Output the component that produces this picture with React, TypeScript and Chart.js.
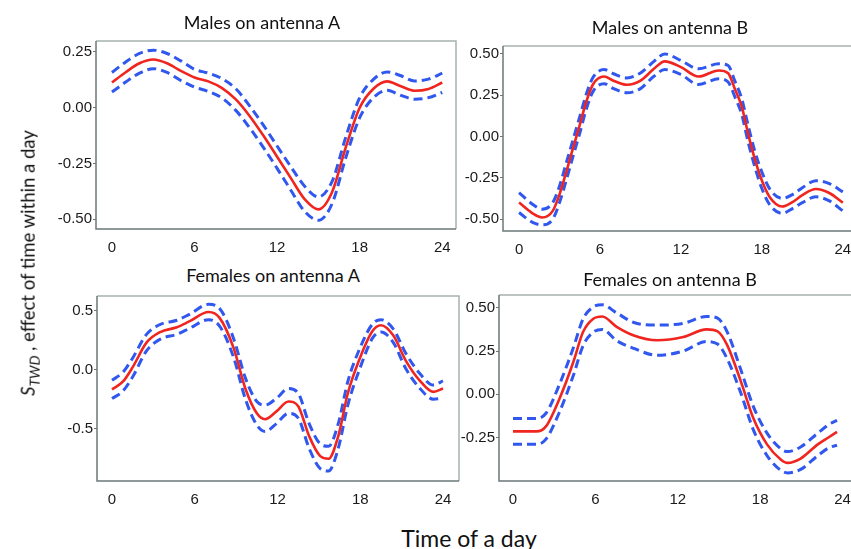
import React, { useEffect, useRef } from "react";
import { Chart, registerables } from "chart.js";

Chart.register(...registerables);

// Shared hour ticks on every x axis
const hourTicks = [0, 6, 12, 18, 24];

// Males on antenna A
const maleAHours = [0, 1, 2, 3, 4, 5, 6, 7, 8, 9, 10, 11, 12, 13, 14, 15, 16, 17, 18, 19, 20, 21, 22, 23, 24];
const maleAFit = [0.113, 0.159, 0.199, 0.216, 0.199, 0.165, 0.135, 0.118, 0.088, 0.037, -0.037, -0.125, -0.22, -0.316, -0.41, -0.456, -0.378, -0.176, 0.0, 0.085, 0.118, 0.096, 0.076, 0.084, 0.113];
const maleAUpper = [0.158, 0.205, 0.243, 0.258, 0.243, 0.21, 0.172, 0.155, 0.13, 0.085, 0.008, -0.078, -0.172, -0.265, -0.352, -0.4, -0.33, -0.13, 0.045, 0.127, 0.16, 0.143, 0.12, 0.128, 0.155];
const maleALower = [0.07, 0.115, 0.155, 0.175, 0.158, 0.122, 0.092, 0.073, 0.043, -0.012, -0.09, -0.178, -0.272, -0.37, -0.465, -0.505, -0.43, -0.222, -0.045, 0.045, 0.078, 0.055, 0.038, 0.045, 0.068];
const maleATicks = [0.25, 0, -0.25, -0.5];

// Males on antenna B
const maleBHours = [0, 1, 1.7, 2.5, 3, 3.5, 4, 4.5, 5, 5.5, 6.3, 7, 8, 9, 10, 10.8, 12, 13.3, 14.8, 15.5, 16, 16.5, 17, 17.5, 18, 18.6, 19.5, 20.3, 21, 22, 23, 24];
const maleBFit = [-0.4, -0.465, -0.49, -0.45, -0.35, -0.215, -0.07, 0.07, 0.215, 0.318, 0.363, 0.338, 0.313, 0.338, 0.41, 0.455, 0.42, 0.363, 0.4, 0.383, 0.287, 0.184, 0.01, -0.143, -0.266, -0.369, -0.424, -0.395, -0.355, -0.318, -0.342, -0.4];
const maleBUpper = [-0.34, -0.41, -0.44, -0.4, -0.3, -0.16, -0.02, 0.12, 0.26, 0.36, 0.405, 0.38, 0.355, 0.385, 0.455, 0.5, 0.46, 0.41, 0.44, 0.43, 0.335, 0.23, 0.06, -0.095, -0.215, -0.32, -0.375, -0.35, -0.31, -0.268, -0.285, -0.335];
const maleBLower = [-0.46, -0.52, -0.535, -0.5, -0.4, -0.265, -0.12, 0.02, 0.17, 0.275, 0.32, 0.29, 0.265, 0.29, 0.365, 0.405, 0.375, 0.315, 0.35, 0.33, 0.24, 0.135, -0.04, -0.19, -0.315, -0.415, -0.465, -0.435, -0.4, -0.365, -0.39, -0.45];
const maleBTicks = [0.5, 0.25, 0, -0.25, -0.5];

// Females on antenna A
const femaleAHours = [0, 0.8, 1.5, 2.5, 3.5, 4.7, 5.6, 7.0, 7.8, 8.8, 9.7, 10.5, 11.1, 11.9, 12.8, 13.5, 14.3, 15.1, 15.7, 16.4, 17.1, 18.0, 18.9, 19.5, 20.4, 21.3, 22.3, 23.3, 24];
const femaleAFit = [-0.168, -0.1, 0.022, 0.23, 0.32, 0.36, 0.41, 0.49, 0.44, 0.19, -0.17, -0.37, -0.42, -0.356, -0.27, -0.31, -0.566, -0.734, -0.756, -0.566, -0.2, 0.106, 0.33, 0.378, 0.29, 0.078, -0.09, -0.188, -0.16];
const femaleAUpper = [-0.09, -0.02, 0.1, 0.3, 0.385, 0.42, 0.47, 0.555, 0.52, 0.27, -0.08, -0.27, -0.3, -0.245, -0.16, -0.2, -0.46, -0.63, -0.65, -0.46, -0.1, 0.19, 0.39, 0.425, 0.345, 0.14, -0.03, -0.13, -0.095];
const femaleALower = [-0.245, -0.18, -0.06, 0.16, 0.26, 0.3, 0.35, 0.425, 0.37, 0.11, -0.26, -0.47, -0.525, -0.46, -0.37, -0.41, -0.67, -0.84, -0.86, -0.67, -0.3, 0.02, 0.27, 0.32, 0.23, 0.01, -0.155, -0.25, -0.24];
const femaleATicks = [0.5, 0, -0.5];

// Females on antenna B
const femaleBHours = [0, 1.7, 2.4, 3.4, 4.4, 5.1, 5.85, 6.5, 7.55, 8.8, 10.5, 12.4, 14.1, 14.9, 15.6, 16.6, 17.5, 18.5, 19.5, 20.0, 20.95, 22.2, 23.0, 23.6];
const femaleBFit = [-0.215, -0.215, -0.186, -0.023, 0.188, 0.36, 0.437, 0.45, 0.39, 0.34, 0.312, 0.331, 0.375, 0.364, 0.284, 0.073, -0.138, -0.29, -0.377, -0.397, -0.372, -0.29, -0.249, -0.218];
const femaleBUpper = [-0.14, -0.14, -0.11, 0.06, 0.27, 0.435, 0.505, 0.517, 0.47, 0.415, 0.4, 0.41, 0.45, 0.44, 0.36, 0.14, -0.07, -0.225, -0.315, -0.332, -0.305, -0.225, -0.175, -0.151];
const femaleBLower = [-0.29, -0.29, -0.26, -0.1, 0.11, 0.28, 0.36, 0.375, 0.31, 0.265, 0.225, 0.25, 0.305, 0.29, 0.205, 0.005, -0.205, -0.355, -0.44, -0.455, -0.435, -0.355, -0.31, -0.295];
const femaleBTicks = [0.5, 0.25, 0, -0.25];

const RED = "#f0251f";
const BLUE = "#3057ee";
const TICK_FONT = { family: "'Liberation Sans', Arial, sans-serif", size: 15 };
const TEXT_FONT = "Lato, 'Open Sans', sans-serif";

const Y_AXIS_W = 60;
const X_AXIS_H = 26;
const PAD = 8;

type Panel = {
  title: string;
  titleX: number;
  titleY: number;
  box: { l: number; t: number; r: number; b: number };
  xMin: number;
  xMax: number;
  yMin: number;
  yMax: number;
  decimals: number;
  yTicks: number[];
  hours: number[];
  fit: number[];
  upper: number[];
  lower: number[];
};

const panels: Panel[] = [
  {
    title: "Males on antenna A", titleX: 262, titleY: 22,
    box: { l: 96, t: 39, r: 456, b: 229 },
    xMin: -1.16, xMax: 25.0, yMin: -0.544, yMax: 0.299, decimals: 2,
    yTicks: maleATicks, hours: maleAHours, fit: maleAFit, upper: maleAUpper, lower: maleALower,
  },
  {
    title: "Males on antenna B", titleX: 670, titleY: 27,
    box: { l: 503, t: 44, r: 859, b: 231 },
    xMin: -1.19, xMax: 25.2, yMin: -0.572, yMax: 0.548, decimals: 2,
    yTicks: maleBTicks, hours: maleBHours, fit: maleBFit, upper: maleBUpper, lower: maleBLower,
  },
  {
    title: "Females on antenna A", titleX: 273, titleY: 275,
    box: { l: 97, t: 294, r: 459, b: 481 },
    xMin: -1.09, xMax: 25.16, yMin: -0.945, yMax: 0.626, decimals: 1,
    yTicks: femaleATicks, hours: femaleAHours, fit: femaleAFit, upper: femaleAUpper, lower: femaleALower,
  },
  {
    title: "Females on antenna B", titleX: 670, titleY: 279,
    box: { l: 499, t: 293, r: 859, b: 481 },
    xMin: -1.02, xMax: 25.2, yMin: -0.502, yMax: 0.574, decimals: 2,
    yTicks: femaleBTicks, hours: femaleBHours, fit: femaleBFit, upper: femaleBUpper, lower: femaleBLower,
  },
];

// Panel frame: light top/right edges, darker left/bottom axis lines
const framePlugin = {
  id: "panelFrame",
  beforeDatasetsDraw(chart: any) {
    const { ctx, chartArea } = chart;
    const { left, top, right, bottom } = chartArea;
    ctx.save();
    ctx.lineWidth = 1.5;
    ctx.strokeStyle = "#a7b1b1";
    ctx.beginPath();
    ctx.moveTo(left, top);
    ctx.lineTo(right, top);
    ctx.lineTo(right, bottom);
    ctx.stroke();
    ctx.strokeStyle = "#6c7878";
    ctx.beginPath();
    ctx.moveTo(left, top);
    ctx.lineTo(left, bottom);
    ctx.lineTo(right, bottom);
    ctx.stroke();
    ctx.restore();
  },
};

function buildChart(canvas: HTMLCanvasElement, p: Panel) {
  const pts = (ys: number[]) => p.hours.map((h, i) => ({ x: h, y: ys[i] }));
  const lineBase = {
    pointRadius: 0,
    fill: false,
    cubicInterpolationMode: "monotone" as const,
  };
  return new Chart(canvas, {
    type: "line",
    data: {
      datasets: [
        { ...lineBase, data: pts(p.fit), borderColor: RED, borderWidth: 2.6 },
        { ...lineBase, data: pts(p.upper), borderColor: BLUE, borderWidth: 3, borderDash: [9, 5] },
        { ...lineBase, data: pts(p.lower), borderColor: BLUE, borderWidth: 3, borderDash: [9, 5] },
      ],
    },
    options: {
      responsive: false,
      animation: false,
      devicePixelRatio: 1,
      layout: { padding: { top: PAD, right: PAD, left: 0, bottom: 0 } },
      plugins: { legend: { display: false }, tooltip: { enabled: false }, title: { display: false } },
      scales: {
        x: {
          type: "linear",
          min: p.xMin,
          max: p.xMax,
          afterBuildTicks: (s: any) => { s.ticks = hourTicks.map((v) => ({ value: v })); },
          afterFit: (s: any) => { s.height = X_AXIS_H; },
          grid: { display: false },
          border: { display: false },
          ticks: {
            font: TICK_FONT, color: "#1a1a1a", padding: 2, maxRotation: 0, autoSkip: false,
            callback: (v: any) => String(v),
          },
        },
        y: {
          type: "linear",
          min: p.yMin,
          max: p.yMax,
          afterBuildTicks: (s: any) => { s.ticks = p.yTicks.map((v) => ({ value: v })); },
          afterFit: (s: any) => { s.width = Y_AXIS_W; },
          grid: { display: true, drawOnChartArea: false, drawTicks: true, tickLength: 3, color: "#6c7878", lineWidth: 1 },
          border: { display: false },
          ticks: {
            font: TICK_FONT, color: "#1a1a1a", padding: 1, autoSkip: false,
            callback: (v: any) => Number(v).toFixed(p.decimals),
          },
        },
      },
    },
    plugins: [framePlugin],
  } as any);
}

function PanelChart({ p }: { p: Panel }) {
  const ref = useRef<HTMLCanvasElement | null>(null);
  const w = Y_AXIS_W + (p.box.r - p.box.l) + PAD;
  const h = PAD + (p.box.b - p.box.t) + X_AXIS_H;
  useEffect(() => {
    if (!ref.current) return;
    const chart = buildChart(ref.current, p);
    return () => chart.destroy();
  }, [p]);
  return (
    <>
      <canvas
        ref={ref}
        width={w}
        height={h}
        style={{ position: "absolute", left: p.box.l - Y_AXIS_W, top: p.box.t - PAD, width: w, height: h }}
      />
      <div
        style={{
          position: "absolute", left: p.titleX, top: p.titleY, transform: "translate(-50%, -50%)",
          fontFamily: TEXT_FONT, fontSize: 18, color: "#111", whiteSpace: "nowrap", lineHeight: 1,
        }}
      >
        {p.title}
      </div>
    </>
  );
}

export default function App() {
  return (
    <div
      style={{
        position: "absolute", left: 0, top: 0, width: 851, height: 549,
        overflow: "hidden", background: "#fff",
      }}
    >
      {panels.map((p) => (
        <PanelChart key={p.title} p={p} />
      ))}
      <div
        style={{
          position: "absolute", left: 30, top: 263, transform: "translate(-50%, -50%) rotate(-90deg)",
          fontFamily: TEXT_FONT, fontSize: 18.5, color: "#111", whiteSpace: "nowrap", lineHeight: 1,
        }}
      >
        <i>S</i>
        <sub style={{ fontSize: 14, fontStyle: "italic" }}>TWD</sub> , effect of time within a day
      </div>
      <div
        style={{
          position: "absolute", left: 469, top: 538, transform: "translate(-50%, -50%)",
          fontFamily: TEXT_FONT, fontSize: 23, color: "#111", whiteSpace: "nowrap", lineHeight: 1,
        }}
      >
        Time of a day
      </div>
    </div>
  );
}
